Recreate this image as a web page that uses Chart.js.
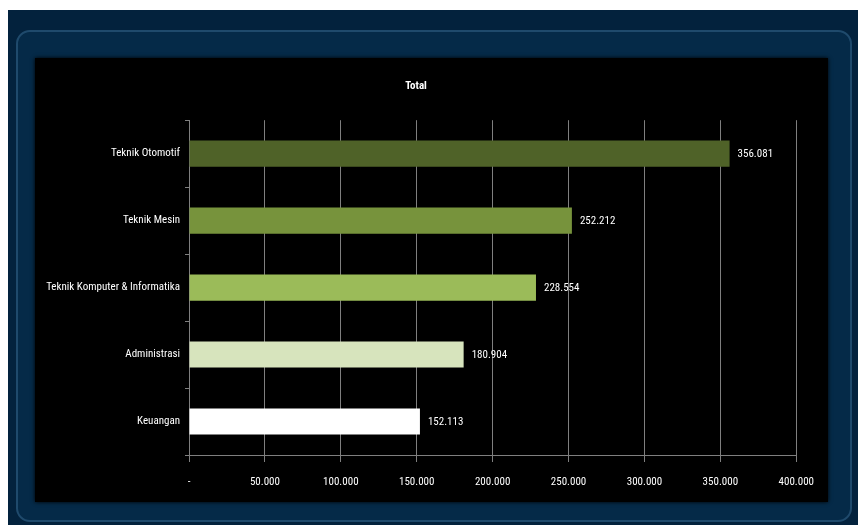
<!DOCTYPE html>
<html>
<head>
<meta charset="utf-8">
<script src="https://cdn.jsdelivr.net/npm/chart.js@4"></script>
<style>
  html, body { margin: 0; padding: 0; background: #ffffff; }
  #frame { position: absolute; left: 8px; top: 10px; width: 850px; height: 515px; background: #03223d; }
  #panel { position: absolute; left: 8px; top: 20px; width: 832px; height: 488px;
           border: 2px solid #1f4a6c; border-radius: 14px; background: #052a48; }
  #plot { position: absolute; left: 35px; top: 58px; width: 793px; height: 444px; background: #000000;
          box-shadow: 0 0 4px #000000; }
  #plot canvas { display: block; }
</style>
</head>
<body>
<div id="frame"><div id="panel"></div></div>
<div id="plot"><canvas id="totalChart" width="793" height="444"></canvas></div>
<script>
const categories = ['Teknik Otomotif', 'Teknik Mesin', 'Teknik Komputer & Informatika', 'Administrasi', 'Keuangan'];
const totals = [356081, 252212, 228554, 180904, 152113];
const barColors = ['#4f6228', '#77933c', '#9bbb59', '#d7e4bd', '#ffffff'];
const tickValues = [0, 50000, 100000, 150000, 200000, 250000, 300000, 350000, 400000];

const fontFamily = '"Roboto Condensed", "Open Sans", sans-serif';

function fmt(v) {
    if (v === 0) return '-';
    return String(Math.round(v)).replace(/\B(?=(\d{3})+(?!\d))/g, '.');
}

const valueLabels = {
    id: 'valueLabels',
    afterDatasetsDraw(chart) {
        const ctx = chart.ctx;
        const meta = chart.getDatasetMeta(0);
        ctx.save();
        ctx.fillStyle = '#ffffff';
        ctx.font = '11px ' + fontFamily;
        ctx.textAlign = 'left';
        ctx.textBaseline = 'middle';
        meta.data.forEach(function(bar, i) {
            ctx.fillText(fmt(totals[i]), bar.x + 8, bar.y + 1);
        });
        ctx.restore();
    }
};

const ctx = document.getElementById('totalChart').getContext('2d');
new Chart(ctx, {
    type: 'bar',
    data: {
        labels: categories,
        datasets: [{
            label: 'Total',
            data: totals,
            backgroundColor: barColors,
            borderWidth: 0,
            barPercentage: 0.39,
            categoryPercentage: 1
        }]
    },
    options: {
        indexAxis: 'y',
        responsive: false,
        animation: false,
        layout: { padding: { left: 0, right: 31, top: 0, bottom: 0 } },
        plugins: {
            legend: { display: false },
            tooltip: { enabled: false },
            title: {
                display: true,
                text: 'Total',
                color: '#ffffff',
                font: { family: fontFamily, size: 11, weight: 'bold' },
                padding: { top: 22, bottom: 27 }
            }
        },
        scales: {
            x: {
                min: 0,
                max: 400000,
                afterBuildTicks(scale) {
                    scale.ticks = tickValues.map(function(v) { return { value: v }; });
                },
                afterFit(scale) { scale.height = 47; },
                ticks: {
                    color: '#ffffff',
                    font: { family: fontFamily, size: 11 },
                    padding: 14,
                    maxRotation: 0,
                    callback: function(v) { return fmt(v); }
                },
                grid: { color: '#7f7f7f', lineWidth: 1, tickLength: 7 },
                border: { color: '#7f7f7f' }
            },
            y: {
                afterFit(scale) { scale.width = 154; },
                ticks: {
                    color: '#ffffff',
                    font: { family: fontFamily, size: 11 },
                    padding: 5
                },
                grid: { offset: true, drawOnChartArea: false, color: '#7f7f7f', tickLength: 4 },
                border: { color: '#7f7f7f' }
            }
        }
    },
    plugins: [valueLabels]
});
</script>
</body>
</html>
